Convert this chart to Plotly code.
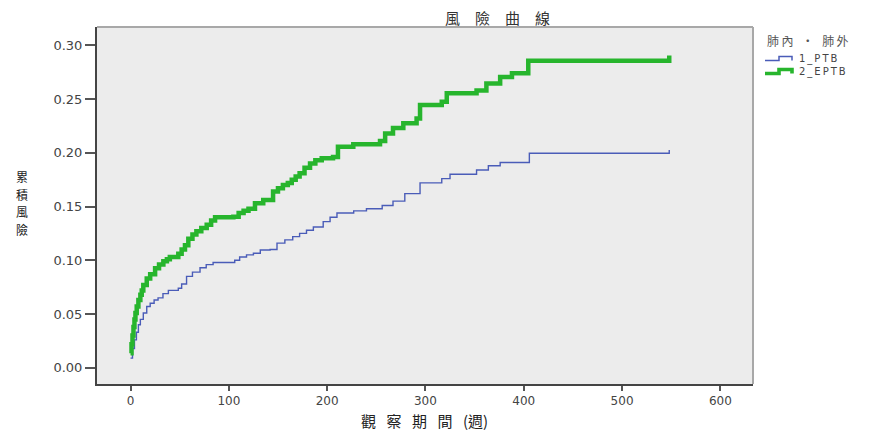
import plotly.graph_objects as go

# ---- data ----
ptb_weeks = [0, 2, 4, 6, 8, 10, 13, 16.5, 20, 24, 28, 33, 38.5, 48.6, 52, 57, 63, 70.7, 77, 84,
             106, 111, 118, 125, 132, 142, 149, 157, 165, 172, 179, 186, 196, 203, 210, 227, 240,
             256, 267, 279, 294.5, 316.6, 325, 352, 364, 376, 405.7, 548, 548]
ptb_risk = [0.009, 0.018, 0.026, 0.033, 0.040, 0.045, 0.051, 0.057, 0.060, 0.063, 0.065, 0.069, 0.072,
            0.074, 0.078, 0.085, 0.089, 0.093, 0.096, 0.098, 0.100, 0.103, 0.105, 0.1065, 0.1096, 0.110,
            0.116, 0.119, 0.122, 0.125, 0.128, 0.131, 0.136, 0.140, 0.144, 0.146, 0.148, 0.151, 0.155,
            0.162, 0.172, 0.176, 0.180, 0.184, 0.188, 0.191, 0.1995, 0.2005, 0.2025]

eptb_weeks = [0, 1, 2, 3, 4, 5, 6.3, 8, 10, 11.4, 13, 16.5, 20, 25, 29, 33.4, 37, 40, 48.6, 52, 55.4,
              58.8, 63, 67, 72, 77.5, 82, 86, 104.6, 110, 115, 120, 126.6, 135, 145, 150, 155, 160, 164,
              168, 172, 177, 182.6, 188, 194.5, 206, 211, 226.6, 253.8, 259, 267, 277.5, 291, 294.5,
              316.6, 321.7, 352, 362, 376, 388, 404.6, 548, 548]
eptb_risk = [0.0135, 0.022, 0.030, 0.038, 0.045, 0.051, 0.057, 0.063, 0.068, 0.072, 0.077, 0.083, 0.087,
             0.0925, 0.096, 0.099, 0.101, 0.103, 0.106, 0.110, 0.114, 0.120, 0.124, 0.127, 0.130, 0.133,
             0.137, 0.140, 0.1405, 0.144, 0.146, 0.148, 0.153, 0.156, 0.164, 0.167, 0.170, 0.172, 0.175,
             0.178, 0.181, 0.186, 0.190, 0.193, 0.195, 0.196, 0.2057, 0.208, 0.211, 0.218, 0.223, 0.2275,
             0.232, 0.2445, 0.2475, 0.2554, 0.258, 0.2645, 0.2705, 0.274, 0.2855, 0.2860, 0.2905]

x_ticks = [0, 100, 200, 300, 400, 500, 600]
y_ticks = [0.00, 0.05, 0.10, 0.15, 0.20, 0.25, 0.30]
y_tick_text = ["0.00", "0.05", "0.10", "0.15", "0.20", "0.25", "0.30"]

title_chars = ["風", "險", "曲", "線"]
x_title_parts = ["觀", "察", "期", "間", "(週)"]
y_title_chars = ["累", "積", "風", "險"]
legend_title_parts = ["肺", "內", "・", "肺", "外"]
names = ["1_PTB", "2_EPTB"]
colors = ["#4a5cb8", "#27b52d"]
widths = [1.4, 4.5]

# ---- layout geometry (pixels) ----
W, H = 872, 431
L, R, T, B = 97, 753, 27, 384
PW, PH = R - L, B - T

def px(x):
    return (x - L) / PW

def py(y):
    return (B - y) / PH

CJK = "Noto Sans CJK TC, Noto Sans CJK SC, sans-serif"
LAT = "DejaVu Sans, Arial, sans-serif"

fig = go.Figure()
fig.add_trace(go.Scatter(x=ptb_weeks, y=ptb_risk, mode="lines", line_shape="hv",
                         line=dict(color=colors[0], width=widths[0]), name=names[0]))
fig.add_trace(go.Scatter(x=eptb_weeks, y=eptb_risk, mode="lines", line_shape="hv",
                         line=dict(color=colors[1], width=widths[1]), name=names[1]))

def ann(text, x, y, font, xanchor="center"):
    return dict(text=text, x=px(x), y=py(y), xref="paper", yref="paper", showarrow=False,
                xanchor=xanchor, yanchor="middle", font=font)

annotations = [
    ann("\u2003".join(title_chars), 497, 17, dict(family=CJK, size=15, color="#333333")),
    ann("\u2002\u2009".join(x_title_parts), 424, 420, dict(family=CJK, size=15, color="#222222")),
    ann("\u2009".join(legend_title_parts[:2]) + "\u2002\u2009" + legend_title_parts[2] + "\u2002\u2009"
        + "\u2009".join(legend_title_parts[3:]), 765, 41,
        dict(family=CJK, size=12, color="#555555"), xanchor="left"),
]
for i, ch in enumerate(y_title_chars):
    annotations.append(ann(ch, 22, 177 + 17.5 * i, dict(family=CJK, size=12, color="#222222")))

legend_rows = [59, 72]
shapes = [
    dict(type="line", xref="paper", yref="paper", x0=0, x1=1, y0=1, y1=1,
         line=dict(color="#a8a8a8", width=2)),
    dict(type="line", xref="paper", yref="paper", x0=1, x1=1, y0=0, y1=1,
         line=dict(color="#a8a8a8", width=2)),
]
for i, name in enumerate(names):
    yc = legend_rows[i]
    annotations.append(ann("\u2009".join(name), 797, yc,
                           dict(family=LAT, size=10, color="#444444"), xanchor="left"))
    lo, hi = yc + 1.5, yc - 2.5
    path = "M {} {} L {} {} L {} {} L {} {} L {} {}".format(
        px(765), py(lo), px(779), py(lo), px(779), py(hi), px(792), py(hi), px(792), py(lo))
    shapes.append(dict(type="path", xref="paper", yref="paper", path=path,
                       line=dict(color=colors[i], width=min(widths[i] * 0.8 + 0.4, 3.6))))

fig.update_layout(
    width=W, height=H,
    margin=dict(l=L, r=W - R, t=T, b=H - B, pad=0),
    paper_bgcolor="white", plot_bgcolor="#ececec",
    showlegend=False,
    annotations=annotations,
    shapes=shapes,
)
fig.update_xaxes(range=[-34.1, 633.2], tickvals=x_ticks, ticktext=[str(v) for v in x_ticks],
                 showgrid=False, zeroline=False, showline=True, linecolor="#444444", linewidth=2,
                 ticks="outside", ticklen=5, tickwidth=2, tickcolor="#555555",
                 tickfont=dict(family=LAT, size=12, color="#444444"))
fig.update_yaxes(range=[-0.01507, 0.3170], tickvals=y_ticks, ticktext=y_tick_text,
                 showgrid=False, zeroline=False, showline=True, linecolor="#444444", linewidth=2,
                 ticks="outside", ticklen=10, tickwidth=2, tickcolor="#555555",
                 tickfont=dict(family=LAT, size=13, color="#444444"))

fig.write_html("out.html")
